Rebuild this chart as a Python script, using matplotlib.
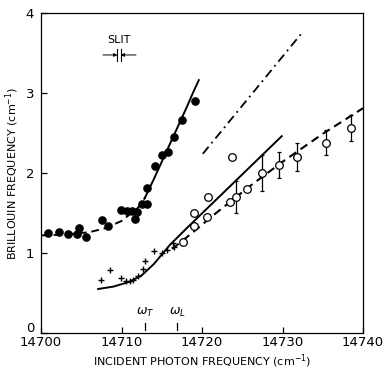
import numpy as np
import matplotlib
matplotlib.use('Agg')
import matplotlib.pyplot as plt
import matplotlib.transforms as mtransforms

# filled circles
fx = [14700.9, 14702.2, 14703.4, 14704.5, 14704.7, 14705.6, 14707.6, 14708.3,
      14709.9, 14710.7, 14711.3, 14711.7, 14711.9, 14712.5, 14713.2, 14713.2,
      14714.2, 14715.0, 14715.8, 14716.5, 14717.5, 14719.1]
fy = [1.25, 1.26, 1.24, 1.24, 1.31, 1.20, 1.41, 1.34,
      1.54, 1.53, 1.53, 1.43, 1.51, 1.61, 1.61, 1.81,
      2.09, 2.23, 2.26, 2.45, 2.66, 2.90]

# crosses
cx = [14707.4, 14708.6, 14709.9, 14710.6, 14711.1, 14711.4, 14712.0, 14712.7,
      14712.9, 14714.0, 14715.0, 14715.7, 14716.4, 14716.5]
cy = [0.66, 0.79, 0.69, 0.65, 0.65, 0.66, 0.71, 0.80,
      0.90, 1.03, 1.00, 1.04, 1.13, 1.08]

# open circles (no error bar)
ox = [14717.6, 14719.0, 14719.0, 14720.6, 14720.8, 14723.5, 14723.7, 14725.6]
oy = [1.14, 1.34, 1.50, 1.45, 1.70, 1.64, 2.20, 1.80]

# open circles with error bars
ex = [14724.2, 14727.4, 14729.6, 14731.8, 14735.4, 14738.5]
ey = [1.70, 2.00, 2.10, 2.20, 2.38, 2.56]
eerr = [0.20, 0.23, 0.16, 0.17, 0.16, 0.16]

# curves
upper_dash_x = [14700, 14703, 14706, 14708, 14710, 14712, 14713]
upper_dash_y = [1.22, 1.23, 1.26, 1.31, 1.40, 1.56, 1.70]
upper_solid_x = [14712.9, 14714, 14715, 14716, 14717, 14718, 14719, 14719.6]
upper_solid_y = [1.69, 1.92, 2.14, 2.36, 2.58, 2.80, 3.03, 3.16]

lower_solid_x = [14707.1, 14709, 14711, 14712.5, 14714, 14716, 14718, 14722, 14726, 14729.9]
lower_solid_y = [0.55, 0.58, 0.64, 0.72, 0.86, 1.10, 1.30, 1.69, 2.08, 2.46]

lower_dash_x = [14716.3, 14719, 14722, 14726, 14730, 14735, 14740]
lower_dash_y = [1.05, 1.27, 1.52, 1.84, 2.14, 2.49, 2.81]

dd_x = [14720.1, 14732.4]
dd_y = [2.24, 3.75]

omega_x = [14712.9, 14716.9]
omega_lab = [r'$\omega_T$', r'$\omega_L$']

plt.rcParams['font.family'] = 'DejaVu Sans'

fig = plt.figure(figsize=(3.83, 3.70), dpi=100)
ax = fig.add_axes([0.107, 0.1, 0.841, 0.865])

ax.plot(upper_dash_x, upper_dash_y, color='black', lw=1.4, dashes=(4, 2.5))
ax.plot(upper_solid_x, upper_solid_y, color='black', lw=1.4)
ax.plot(lower_solid_x, lower_solid_y, color='black', lw=1.4)
ax.plot(lower_dash_x, lower_dash_y, color='black', lw=1.5, dashes=(4, 2.5))
ax.plot(dd_x, dd_y, color='black', lw=1.3, dashes=(5, 2.5, 1, 2.5))

ax.plot(fx, fy, 'o', color='black', ms=5.2, zorder=4)
ax.plot(cx, cy, '+', color='black', ms=5, mew=1.0, zorder=4)
ax.errorbar(ex, ey, yerr=eerr, fmt='none', ecolor='black', elinewidth=0.9,
            capsize=1.5, capthick=0.9, zorder=3)
ax.plot(ox + ex, oy + ey, 'o', mfc='white', mec='black', ms=5.5, mew=0.9, zorder=5)

# omega marks
for xv, lab in zip(omega_x, omega_lab):
    ax.plot([xv, xv], [0.04, 0.125], color='black', lw=0.9)
    ax.text(xv, 0.17, lab, ha='center', va='bottom', fontsize=9)

# slit
ax.text(14709.7, 3.60, 'SLIT', ha='center', va='bottom', fontsize=8)
ax.plot([14709.5, 14709.5], [3.40, 3.55], color='black', lw=0.8)
ax.plot([14709.9, 14709.9], [3.40, 3.55], color='black', lw=0.8)
ax.annotate('', xy=(14709.5, 3.475), xytext=(14707.7, 3.475),
            arrowprops=dict(arrowstyle='-|>', color='black', lw=0.7,
                            mutation_scale=5, shrinkA=0, shrinkB=0))
ax.annotate('', xy=(14709.9, 3.475), xytext=(14711.8, 3.475),
            arrowprops=dict(arrowstyle='-|>', color='black', lw=0.7,
                            mutation_scale=5, shrinkA=0, shrinkB=0))

ax.set_xlim(14700, 14740)
ax.set_ylim(0, 4)
ax.set_xticks([14700, 14710, 14720, 14730, 14740])
ax.set_yticks([0, 1, 2, 3, 4])
ax.tick_params(direction='in', length=4, width=0.9, labelsize=9.5)
ax.tick_params(axis='x', pad=2.5)
ax.tick_params(axis='y', pad=5)
for s in ax.spines.values():
    s.set_linewidth(0.9)

# lift the "0" label a little so it clears 14700
zero_lab = ax.get_yticklabels()[0]
zero_lab.set_transform(zero_lab.get_transform() +
                       mtransforms.ScaledTranslation(0, 4 / 72, fig.dpi_scale_trans))

ax.set_xlabel('INCIDENT PHOTON FREQUENCY (cm$^{-1}$)', fontsize=8, labelpad=2)
ax.set_ylabel('BRILLOUIN FREQUENCY (cm$^{-1}$)', fontsize=8, labelpad=3)

fig.savefig('out.png', dpi=100)
